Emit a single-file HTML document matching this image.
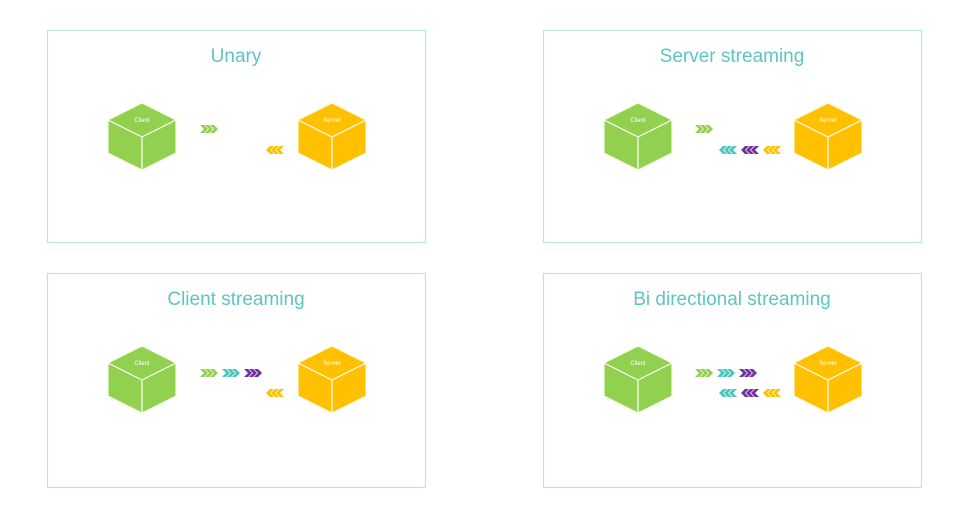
<!DOCTYPE html>
<html><head><style>
html,body{margin:0;padding:0;background:#fff;}
svg{display:block;}
text{font-family:"Liberation Sans",sans-serif;}
</style></head><body>
<svg width="966" height="509" viewBox="0 0 966 509" xmlns="http://www.w3.org/2000/svg">
<defs>
<g id="cr"><polygon points="0,0 4,0 8,4 4,8 0,8 4,4"/><polygon points="5,0 9,0 13,4 9,8 5,8 9,4"/><polygon points="10,0 14,0 18,4 14,8 10,8 14,4"/></g>
<g id="cl"><polygon points="18,0 14,0 10,4 14,8 18,8 14,4"/><polygon points="13,0 9,0 5,4 9,8 13,8 9,4"/><polygon points="8,0 4,0 0,4 4,8 8,8 4,4"/></g>
<g id="cube"><polygon points="34,0 68,17 68,50 34,67 0,50 0,17" stroke="#f4ffe0" stroke-width="1.2"/><polyline points="0,17 34,34 68,17" fill="none" stroke="#fff" stroke-width="1.2"/><line x1="34" y1="34" x2="34" y2="67" stroke="#fff" stroke-width="1.2"/></g>
</defs>
<g fill="none" stroke="#bfe3df" stroke-width="1.2">
<rect x="47.5" y="30.5" width="378" height="212"/>
<rect x="543.5" y="30.5" width="378" height="212"/>
<rect x="47.5" y="273.5" width="378" height="214"/>
<rect x="543.5" y="273.5" width="378" height="214"/>
</g>
<g fill="#5cc6bf" font-size="19" text-anchor="middle">
<text x="236" y="62">Unary</text>
<text x="732" y="62">Server streaming</text>
<text x="236" y="305">Client streaming</text>
<text x="732" y="305">Bi directional streaming</text>
</g>
<g fill="#92d050"><use href="#cube" x="108" y="103"/><use href="#cube" x="604" y="103"/><use href="#cube" x="108" y="346"/><use href="#cube" x="604" y="346"/></g>
<g fill="#ffc000"><use href="#cube" x="298" y="103"/><use href="#cube" x="794" y="103"/><use href="#cube" x="298" y="346"/><use href="#cube" x="794" y="346"/></g>
<g fill="#fff" font-size="6" text-anchor="middle">
<text x="142" y="122">Client</text><text x="638" y="122">Client</text><text x="142" y="365">Client</text><text x="638" y="365">Client</text>
<text x="332" y="122">Server</text><text x="828" y="122">Server</text><text x="332" y="365">Server</text><text x="828" y="365">Server</text>
</g>
<g fill="#92d050"><use href="#cr" x="200" y="125"/><use href="#cr" x="695" y="125"/><use href="#cr" x="200" y="369"/><use href="#cr" x="695" y="369"/></g>
<g fill="#4bc5c4"><use href="#cr" x="222" y="369"/><use href="#cr" x="717" y="369"/><use href="#cl" x="719" y="146"/><use href="#cl" x="719" y="389"/></g>
<g fill="#7030a0"><use href="#cr" x="244" y="369"/><use href="#cr" x="739" y="369"/><use href="#cl" x="741" y="146"/><use href="#cl" x="741" y="389"/></g>
<g fill="#ffc000"><use href="#cl" x="266" y="146"/><use href="#cl" x="763" y="146"/><use href="#cl" x="266" y="389"/><use href="#cl" x="763" y="389"/></g>
</svg>
</body></html>
